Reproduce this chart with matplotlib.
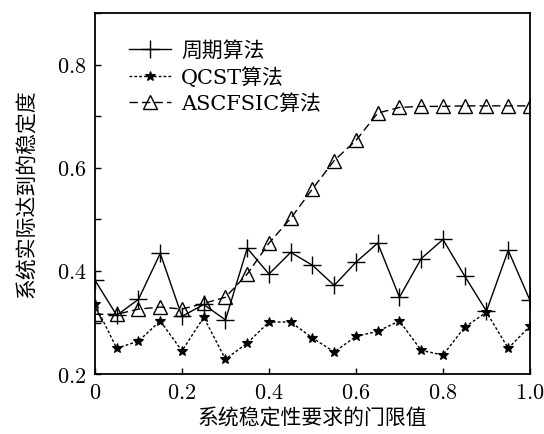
import matplotlib
matplotlib.use("Agg")
import matplotlib.pyplot as plt
from matplotlib.ticker import MultipleLocator, FuncFormatter

plt.rcParams['font.family'] = ['DejaVu Serif', 'Noto Sans CJK SC']
plt.rcParams['mathtext.fontset'] = 'cm'

# threshold values on the x axis
thresholds = [0.0, 0.05, 0.1, 0.15, 0.2, 0.25, 0.3, 0.35, 0.4, 0.45, 0.5,
              0.55, 0.6, 0.65, 0.7, 0.75, 0.8, 0.85, 0.9, 0.95, 1.0]

# achieved stability of each algorithm
periodic = [0.382, 0.314, 0.345, 0.434, 0.312, 0.335, 0.305, 0.444, 0.394,
            0.436, 0.411, 0.372, 0.417, 0.454, 0.349, 0.424, 0.461, 0.390,
            0.322, 0.440, 0.343]
qcst = [0.335, 0.250, 0.264, 0.303, 0.245, 0.310, 0.229, 0.260, 0.301,
        0.301, 0.270, 0.243, 0.273, 0.283, 0.303, 0.246, 0.237, 0.291,
        0.320, 0.250, 0.293]
ascfsic = [0.316, 0.316, 0.326, 0.330, 0.326, 0.337, 0.349, 0.394, 0.454,
           0.502, 0.559, 0.614, 0.653, 0.706, 0.717, 0.719, 0.719, 0.720,
           0.720, 0.720, 0.720]

labels = ['周期算法', 'QCST算法', 'ASCFSIC算法']
x_label = '系统稳定性要求的门限值'
y_label = '系统实际达到的稳定度'

fig = plt.figure(figsize=(5.44, 4.34), dpi=100)
ax = fig.add_axes([0.1746, 0.138, 0.7996, 0.832])

ax.plot(thresholds, periodic, color='black', linestyle='-', linewidth=1.0,
        marker='+', markersize=13, markeredgewidth=1.0, label=labels[0])
ax.plot(thresholds, qcst, color='black', linestyle=(0, (2, 1.5)), linewidth=1.0,
        marker='*', markersize=7, markeredgewidth=0.8, label=labels[1])
ax.plot(thresholds, ascfsic, color='black', linestyle=(0, (6, 3)), linewidth=1.0,
        marker='^', markersize=10, markerfacecolor='none', markeredgewidth=1.0,
        label=labels[2])

ax.set_xlim(0, 1.0)
ax.set_ylim(0.2, 0.9)
ax.xaxis.set_major_locator(MultipleLocator(0.2))
ax.yaxis.set_major_locator(MultipleLocator(0.1))


def fmt_x(v, pos):
    return '$0$' if abs(v) < 1e-9 else '$%.1f$' % v


def fmt_y(v, pos):
    # only every other y tick carries a label
    k = int(round(v * 10))
    return '$%.1f$' % v if k % 2 == 0 else ''


ax.xaxis.set_major_formatter(FuncFormatter(fmt_x))
ax.yaxis.set_major_formatter(FuncFormatter(fmt_y))
ax.tick_params(direction='in', length=4, width=1, labelsize=16, pad=6,
               top=False, right=False)
for s in ax.spines.values():
    s.set_linewidth(1.3)

ax.set_xlabel(x_label, fontsize=15, labelpad=3)
ax.set_ylabel(y_label, fontsize=15, labelpad=14)

ax.legend(loc='upper left', bbox_to_anchor=(0.035, 0.975), frameon=False,
          fontsize=15, handlelength=2.0, handletextpad=0.5, labelspacing=0.3)

fig.savefig('out.png', dpi=100)
